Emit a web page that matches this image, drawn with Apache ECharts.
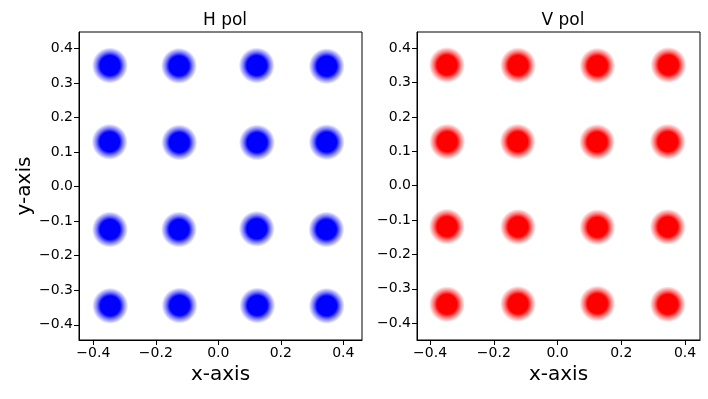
<!DOCTYPE html>
<html>
<head>
<meta charset="utf-8">
<script src="https://cdn.jsdelivr.net/npm/echarts@6/dist/echarts.min.js"></script>
<style>
  html, body { margin: 0; padding: 0; background: #fff; }
  #chart { width: 708px; height: 399px; }
</style>
</head>
<body>
<div id="chart"></div>
<script>
// cluster centres (16-QAM points), [x, y]
var hCentres = [
  [-0.347, 0.351], [-0.126, 0.350], [0.123, 0.351], [0.347, 0.349],
  [-0.348, 0.130], [-0.125, 0.128], [0.124, 0.128], [0.347, 0.129],
  [-0.347, -0.124], [-0.126, -0.124], [0.123, -0.122], [0.346, -0.124],
  [-0.346, -0.345], [-0.124, -0.344], [0.125, -0.344], [0.347, -0.345]
];
var vCentres = [
  [-0.347, 0.351], [-0.124, 0.350], [0.125, 0.349], [0.348, 0.351],
  [-0.346, 0.128], [-0.125, 0.128], [0.124, 0.127], [0.346, 0.128],
  [-0.347, -0.119], [-0.124, -0.120], [0.125, -0.121], [0.346, -0.120],
  [-0.347, -0.345], [-0.124, -0.344], [0.125, -0.343], [0.346, -0.345]
];
var xTicks = [-0.4, -0.2, 0.0, 0.2, 0.4];
var yTicks = [-0.4, -0.3, -0.2, -0.1, 0.0, 0.1, 0.2, 0.3, 0.4];

var font = 'DejaVu Sans';
var chart = echarts.init(document.getElementById('chart'));

function fmt(v) {
  return v.toFixed(1).replace('-', '\u2212');
}

function xAxis(idx, min, max, withName) {
  return {
    type: 'value', gridIndex: idx, min: min, max: max,
    name: withName ? 'x-axis' : '', nameLocation: 'middle', nameGap: 25,
    nameTextStyle: { fontFamily: font, fontSize: 20, color: '#000' },
    axisLine: { show: true, onZero: false, lineStyle: { color: '#000', width: 1 } },
    axisTick: { show: true, length: 5, customValues: xTicks, lineStyle: { color: '#000' } },
    axisLabel: { customValues: xTicks, formatter: fmt, fontFamily: font, fontSize: 14, color: '#000', margin: 6 },
    splitLine: { show: false }
  };
}

function yAxis(idx, min, max, withName) {
  return {
    type: 'value', gridIndex: idx, min: min, max: max,
    name: withName ? 'y-axis' : '', nameLocation: 'middle', nameGap: 44, nameRotate: 90,
    nameTextStyle: { fontFamily: font, fontSize: 20, color: '#000' },
    axisLine: { show: true, onZero: false, lineStyle: { color: '#000', width: 1 } },
    axisTick: { show: true, length: 5, customValues: yTicks, lineStyle: { color: '#000' } },
    axisLabel: { customValues: yTicks, formatter: fmt, fontFamily: font, fontSize: 14, color: '#000', margin: 6 },
    splitLine: { show: false }
  };
}

function blob(r, g, b) {
  var c = function (a) { return 'rgba(' + r + ',' + g + ',' + b + ',' + a + ')'; };
  return {
    type: 'radial', x: 0.5, y: 0.5, r: 0.5,
    colorStops: [
      { offset: 0, color: c(1) },
      { offset: 0.55, color: c(1) },
      { offset: 0.75, color: c(0.5) },
      { offset: 1, color: c(0) }
    ]
  };
}

chart.setOption({
  animation: false,
  title: [
    { text: 'H pol', left: 220, top: 7, textAlign: 'center',
      textStyle: { fontFamily: font, fontSize: 17, fontWeight: 'normal', color: '#000' } },
    { text: 'V pol', left: 558, top: 7, textAlign: 'center',
      textStyle: { fontFamily: font, fontSize: 17, fontWeight: 'normal', color: '#000' } }
  ],
  grid: [
    { left: 79, top: 32, width: 283, height: 308, show: true, borderColor: '#000', borderWidth: 1 },
    { left: 417, top: 32, width: 283, height: 308, show: true, borderColor: '#000', borderWidth: 1 }
  ],
  xAxis: [xAxis(0, -0.446, 0.46, true), xAxis(1, -0.441, 0.447, true)],
  yAxis: [yAxis(0, -0.444, 0.448, true), yAxis(1, -0.449, 0.447, false)],
  series: [
    { type: 'scatter', xAxisIndex: 0, yAxisIndex: 0, data: hCentres,
      symbol: 'circle', symbolSize: 36, itemStyle: { color: blob(0, 0, 255), opacity: 1 } },
    { type: 'scatter', xAxisIndex: 1, yAxisIndex: 1, data: vCentres,
      symbol: 'circle', symbolSize: 36, itemStyle: { color: blob(255, 0, 0), opacity: 1 } }
  ]
});
</script>
</body>
</html>
